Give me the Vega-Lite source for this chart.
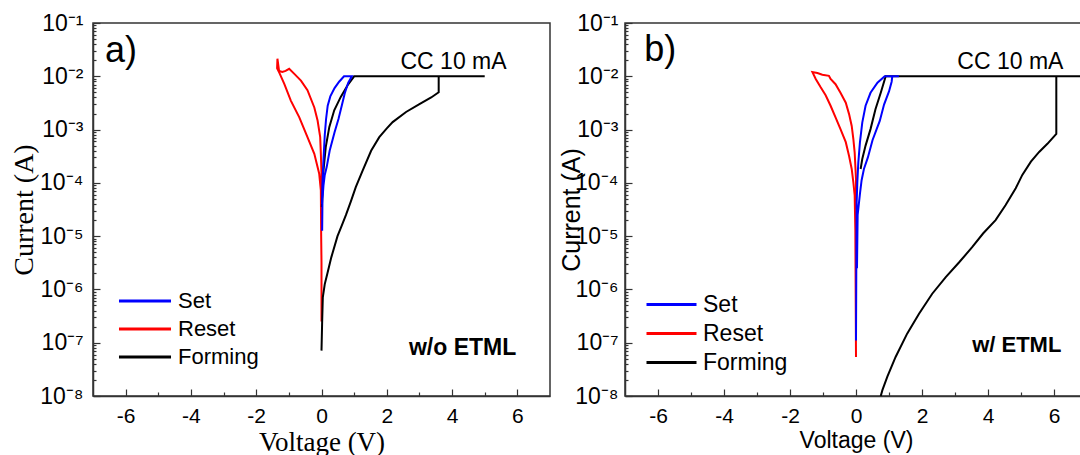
{
  "$schema": "https://vega.github.io/schema/vega-lite/v6.json",
  "autosize": {"type": "pad"},
  "padding": {"left": 9, "top": 11, "right": 0, "bottom": 5},
  "background": "white",
  "config": {
    "view": {"stroke": "#333333", "strokeWidth": 1.5},
    "axis": {"grid": false, "domainColor": "#333333", "domainWidth": 1.5, "tickColor": "#333333", "tickWidth": 1.2, "labelColor": "#000000", "titleColor": "#000000", "labelOverlap": false, "labelFlush": false, "labelBound": false, "titleFontWeight": "normal"},
    "text": {"color": "#000000"}
  },
  "datasets": {
    "curves": [
      {"p":"a","s":"Forming","o":1,"v":0.0,"i":7.1e-8},
      {"p":"a","s":"Forming","o":2,"v":0.02,"i":2.5e-7},
      {"p":"a","s":"Forming","o":3,"v":0.04,"i":7.1e-7},
      {"p":"a","s":"Forming","o":4,"v":0.1,"i":1.26e-6},
      {"p":"a","s":"Forming","o":5,"v":0.18,"i":2.0e-6},
      {"p":"a","s":"Forming","o":6,"v":0.3,"i":4.0e-6},
      {"p":"a","s":"Forming","o":7,"v":0.49,"i":1.0e-5},
      {"p":"a","s":"Forming","o":8,"v":0.62,"i":1.58e-5},
      {"p":"a","s":"Forming","o":9,"v":0.75,"i":2.5e-5},
      {"p":"a","s":"Forming","o":10,"v":0.9,"i":4.5e-5},
      {"p":"a","s":"Forming","o":11,"v":1.05,"i":8.3e-5},
      {"p":"a","s":"Forming","o":12,"v":1.26,"i":1.7e-4},
      {"p":"a","s":"Forming","o":13,"v":1.52,"i":4.0e-4},
      {"p":"a","s":"Forming","o":14,"v":1.77,"i":7.2e-4},
      {"p":"a","s":"Forming","o":15,"v":2.0,"i":1.05e-3},
      {"p":"a","s":"Forming","o":16,"v":2.18,"i":1.38e-3},
      {"p":"a","s":"Forming","o":17,"v":2.59,"i":2.14e-3},
      {"p":"a","s":"Forming","o":18,"v":3.0,"i":3.0e-3},
      {"p":"a","s":"Forming","o":19,"v":3.36,"i":4.0e-3},
      {"p":"a","s":"Forming","o":20,"v":3.59,"i":5.0e-3},
      {"p":"a","s":"Forming","o":21,"v":3.59,"i":1.0e-2},
      {"p":"a","s":"Forming","o":22,"v":5.0,"i":1.0e-2},
      {"p":"a","s":"Forming","o":23,"v":1.0,"i":1.0e-2},
      {"p":"a","s":"Forming","o":24,"v":0.8,"i":6.8e-3},
      {"p":"a","s":"Forming","o":25,"v":0.59,"i":4.1e-3},
      {"p":"a","s":"Forming","o":26,"v":0.39,"i":2.3e-3},
      {"p":"a","s":"Forming","o":27,"v":0.24,"i":1.12e-3},
      {"p":"a","s":"Forming","o":28,"v":0.13,"i":4.7e-4},
      {"p":"a","s":"Forming","o":29,"v":0.06,"i":1.7e-4},
      {"p":"a","s":"Forming","o":30,"v":0.03,"i":6.2e-5},
      {"p":"a","s":"Forming","o":31,"v":0.01,"i":3.5e-5},

      {"p":"a","s":"Set","o":1,"v":0.02,"i":1.26e-5},
      {"p":"a","s":"Set","o":2,"v":0.03,"i":5.0e-5},
      {"p":"a","s":"Set","o":3,"v":0.06,"i":8.9e-5},
      {"p":"a","s":"Set","o":4,"v":0.1,"i":1.41e-4},
      {"p":"a","s":"Set","o":5,"v":0.16,"i":2.0e-4},
      {"p":"a","s":"Set","o":6,"v":0.25,"i":4.0e-4},
      {"p":"a","s":"Set","o":7,"v":0.4,"i":8.9e-4},
      {"p":"a","s":"Set","o":8,"v":0.52,"i":1.58e-3},
      {"p":"a","s":"Set","o":9,"v":0.62,"i":2.8e-3},
      {"p":"a","s":"Set","o":10,"v":0.72,"i":5.0e-3},
      {"p":"a","s":"Set","o":11,"v":0.82,"i":7.6e-3},
      {"p":"a","s":"Set","o":12,"v":0.93,"i":1.0e-2},
      {"p":"a","s":"Set","o":13,"v":0.69,"i":1.0e-2},
      {"p":"a","s":"Set","o":14,"v":0.54,"i":7.9e-3},
      {"p":"a","s":"Set","o":15,"v":0.4,"i":6.0e-3},
      {"p":"a","s":"Set","o":16,"v":0.27,"i":4.2e-3},
      {"p":"a","s":"Set","o":17,"v":0.19,"i":2.8e-3},
      {"p":"a","s":"Set","o":18,"v":0.14,"i":1.58e-3},
      {"p":"a","s":"Set","o":19,"v":0.1,"i":7.9e-4},
      {"p":"a","s":"Set","o":20,"v":0.07,"i":3.5e-4},
      {"p":"a","s":"Set","o":21,"v":0.05,"i":2.0e-4},
      {"p":"a","s":"Set","o":22,"v":0.03,"i":1.0e-4},
      {"p":"a","s":"Set","o":23,"v":0.02,"i":4.0e-5},

      {"p":"a","s":"Reset","o":1,"v":0.0,"i":2.5e-5},
      {"p":"a","s":"Reset","o":2,"v":0.0,"i":1.48e-4},
      {"p":"a","s":"Reset","o":3,"v":-0.02,"i":3.5e-4},
      {"p":"a","s":"Reset","o":4,"v":-0.04,"i":7.2e-4},
      {"p":"a","s":"Reset","o":5,"v":-0.12,"i":1.48e-3},
      {"p":"a","s":"Reset","o":6,"v":-0.22,"i":2.6e-3},
      {"p":"a","s":"Reset","o":7,"v":-0.43,"i":5.5e-3},
      {"p":"a","s":"Reset","o":8,"v":-0.63,"i":8.3e-3},
      {"p":"a","s":"Reset","o":9,"v":-0.84,"i":1.12e-2},
      {"p":"a","s":"Reset","o":10,"v":-0.99,"i":1.38e-2},
      {"p":"a","s":"Reset","o":11,"v":-1.1,"i":1.26e-2},
      {"p":"a","s":"Reset","o":12,"v":-1.2,"i":1.2e-2},
      {"p":"a","s":"Reset","o":13,"v":-1.3,"i":1.26e-2},
      {"p":"a","s":"Reset","o":14,"v":-1.35,"i":2.14e-2},
      {"p":"a","s":"Reset","o":15,"v":-1.36,"i":1.41e-2},
      {"p":"a","s":"Reset","o":16,"v":-1.28,"i":1.12e-2},
      {"p":"a","s":"Reset","o":17,"v":-1.14,"i":7.2e-3},
      {"p":"a","s":"Reset","o":18,"v":-0.94,"i":3.5e-3},
      {"p":"a","s":"Reset","o":19,"v":-0.68,"i":1.7e-3},
      {"p":"a","s":"Reset","o":20,"v":-0.43,"i":7.2e-4},
      {"p":"a","s":"Reset","o":21,"v":-0.22,"i":3.5e-4},
      {"p":"a","s":"Reset","o":22,"v":-0.07,"i":1.48e-4},
      {"p":"a","s":"Reset","o":23,"v":-0.02,"i":7.2e-5},
      {"p":"a","s":"Reset","o":24,"v":-0.01,"i":1.0e-5},
      {"p":"a","s":"Reset","o":25,"v":0.0,"i":3.2e-6},
      {"p":"a","s":"Reset","o":26,"v":0.0,"i":2.5e-7},

      {"p":"b","s":"Forming","o":1,"v":0.75,"i":1.0e-8},
      {"p":"b","s":"Forming","o":2,"v":0.8,"i":1.29e-8},
      {"p":"b","s":"Forming","o":3,"v":0.95,"i":2.3e-8},
      {"p":"b","s":"Forming","o":4,"v":1.2,"i":5.4e-8},
      {"p":"b","s":"Forming","o":5,"v":1.55,"i":1.48e-7},
      {"p":"b","s":"Forming","o":6,"v":1.91,"i":3.5e-7},
      {"p":"b","s":"Forming","o":7,"v":2.31,"i":8.3e-7},
      {"p":"b","s":"Forming","o":8,"v":2.72,"i":1.7e-6},
      {"p":"b","s":"Forming","o":9,"v":3.12,"i":3.2e-6},
      {"p":"b","s":"Forming","o":10,"v":3.52,"i":6.2e-6},
      {"p":"b","s":"Forming","o":11,"v":3.85,"i":1.12e-5},
      {"p":"b","s":"Forming","o":12,"v":4.23,"i":2.0e-5},
      {"p":"b","s":"Forming","o":13,"v":4.53,"i":3.8e-5},
      {"p":"b","s":"Forming","o":14,"v":4.84,"i":7.9e-5},
      {"p":"b","s":"Forming","o":15,"v":5.04,"i":1.41e-4},
      {"p":"b","s":"Forming","o":16,"v":5.3,"i":2.5e-4},
      {"p":"b","s":"Forming","o":17,"v":5.55,"i":3.8e-4},
      {"p":"b","s":"Forming","o":18,"v":5.8,"i":5.4e-4},
      {"p":"b","s":"Forming","o":19,"v":6.07,"i":8.3e-4},
      {"p":"b","s":"Forming","o":20,"v":6.07,"i":1.0e-2},
      {"p":"b","s":"Forming","o":21,"v":7.0,"i":1.0e-2},
      {"p":"b","s":"Forming","o":22,"v":0.9,"i":1.0e-2},
      {"p":"b","s":"Forming","o":23,"v":0.75,"i":4.9e-3},
      {"p":"b","s":"Forming","o":24,"v":0.59,"i":2.4e-3},
      {"p":"b","s":"Forming","o":25,"v":0.44,"i":1.02e-3},
      {"p":"b","s":"Forming","o":26,"v":0.29,"i":5.0e-4},
      {"p":"b","s":"Forming","o":27,"v":0.19,"i":2.8e-4},
      {"p":"b","s":"Forming","o":28,"v":0.14,"i":1.82e-4},

      {"p":"b","s":"Set","o":1,"v":0.03,"i":2.5e-6},
      {"p":"b","s":"Set","o":2,"v":0.05,"i":2.5e-5},
      {"p":"b","s":"Set","o":3,"v":0.12,"i":6.3e-5},
      {"p":"b","s":"Set","o":4,"v":0.17,"i":1.12e-4},
      {"p":"b","s":"Set","o":5,"v":0.24,"i":1.82e-4},
      {"p":"b","s":"Set","o":6,"v":0.36,"i":3.0e-4},
      {"p":"b","s":"Set","o":7,"v":0.5,"i":6.3e-4},
      {"p":"b","s":"Set","o":8,"v":0.62,"i":1.0e-3},
      {"p":"b","s":"Set","o":9,"v":0.72,"i":1.45e-3},
      {"p":"b","s":"Set","o":10,"v":0.85,"i":2.95e-3},
      {"p":"b","s":"Set","o":11,"v":1.0,"i":5.2e-3},
      {"p":"b","s":"Set","o":12,"v":1.08,"i":7.9e-3},
      {"p":"b","s":"Set","o":13,"v":1.1,"i":1.0e-2},
      {"p":"b","s":"Set","o":14,"v":1.3,"i":1.0e-2},
      {"p":"b","s":"Set","o":15,"v":0.87,"i":1.0e-2},
      {"p":"b","s":"Set","o":16,"v":0.65,"i":7.6e-3},
      {"p":"b","s":"Set","o":17,"v":0.44,"i":4.9e-3},
      {"p":"b","s":"Set","o":18,"v":0.29,"i":2.8e-3},
      {"p":"b","s":"Set","o":19,"v":0.19,"i":1.35e-3},
      {"p":"b","s":"Set","o":20,"v":0.12,"i":5.8e-4},
      {"p":"b","s":"Set","o":21,"v":0.07,"i":2.4e-4},
      {"p":"b","s":"Set","o":22,"v":0.04,"i":1.02e-4},
      {"p":"b","s":"Set","o":23,"v":0.02,"i":4.3e-5},
      {"p":"b","s":"Set","o":24,"v":0.01,"i":3.2e-6},
      {"p":"b","s":"Set","o":25,"v":0.0,"i":1.1e-7},

      {"p":"b","s":"Reset","o":1,"v":0.0,"i":3.2e-5},
      {"p":"b","s":"Reset","o":2,"v":0.0,"i":1.17e-4},
      {"p":"b","s":"Reset","o":3,"v":-0.02,"i":2.1e-4},
      {"p":"b","s":"Reset","o":4,"v":-0.04,"i":3.7e-4},
      {"p":"b","s":"Reset","o":5,"v":-0.08,"i":6.6e-4},
      {"p":"b","s":"Reset","o":6,"v":-0.13,"i":1.17e-3},
      {"p":"b","s":"Reset","o":7,"v":-0.21,"i":1.95e-3},
      {"p":"b","s":"Reset","o":8,"v":-0.31,"i":3.2e-3},
      {"p":"b","s":"Reset","o":9,"v":-0.47,"i":4.9e-3},
      {"p":"b","s":"Reset","o":10,"v":-0.62,"i":7.1e-3},
      {"p":"b","s":"Reset","o":11,"v":-0.77,"i":8.9e-3},
      {"p":"b","s":"Reset","o":12,"v":-0.82,"i":1.02e-2},
      {"p":"b","s":"Reset","o":13,"v":-1.02,"i":1.07e-2},
      {"p":"b","s":"Reset","o":14,"v":-1.17,"i":1.15e-2},
      {"p":"b","s":"Reset","o":15,"v":-1.32,"i":1.2e-2},
      {"p":"b","s":"Reset","o":16,"v":-1.22,"i":8.9e-3},
      {"p":"b","s":"Reset","o":17,"v":-1.07,"i":6.2e-3},
      {"p":"b","s":"Reset","o":18,"v":-0.92,"i":4.4e-3},
      {"p":"b","s":"Reset","o":19,"v":-0.77,"i":2.8e-3},
      {"p":"b","s":"Reset","o":20,"v":-0.62,"i":1.7e-3},
      {"p":"b","s":"Reset","o":21,"v":-0.47,"i":1.02e-3},
      {"p":"b","s":"Reset","o":22,"v":-0.31,"i":5.8e-4},
      {"p":"b","s":"Reset","o":23,"v":-0.21,"i":3.2e-4},
      {"p":"b","s":"Reset","o":24,"v":-0.13,"i":1.82e-4},
      {"p":"b","s":"Reset","o":25,"v":-0.08,"i":1.02e-4},
      {"p":"b","s":"Reset","o":26,"v":-0.04,"i":5.8e-5},
      {"p":"b","s":"Reset","o":27,"v":-0.02,"i":1.26e-5},
      {"p":"b","s":"Reset","o":28,"v":0.0,"i":5.4e-8}
    ],
    "notes": [
      {"p":"a","k":"tag","t":"a)","v":-6.63,"i":0.0182},
      {"p":"a","k":"cc","t":"CC 10 mA","v":2.42,"i":0.0139},
      {"p":"a","k":"dev","t":"w/o ETML","v":2.68,"i":5.9e-8},
      {"p":"b","k":"tag","t":"b)","v":-6.42,"i":0.0195},
      {"p":"b","k":"cc","t":"CC 10 mA","v":3.07,"i":0.0136},
      {"p":"b","k":"dev","t":"w/ ETML","v":3.52,"i":6.8e-8}
    ]
  },
  "spacing": 75,
  "bounds": "flush",
  "resolve": {"scale": {"color": "independent"}, "legend": {"color": "independent"}},
  "hconcat": [
    {
      "width": 457,
      "height": 373,
      "encoding": {
        "x": {"field": "v", "type": "quantitative",
          "scale": {"domain": [-7, 7], "nice": false, "zero": false},
          "axis": {"values": [-6,-5,-4,-3,-2,-1,0,1,2,3,4,5,6],
            "labelExpr": "datum.value % 2 == 0 ? '' + datum.value : ''",
            "tickSize": {"condition": {"test": "datum.value % 2 == 0", "value": -7}, "value": -4},
            "labelFont": "Liberation Sans", "labelFontSize": 21, "labelPadding": 16,
            "title": "Voltage (V)", "titleFont": "Liberation Serif", "titleFontSize": 27, "titlePadding": 0}},
        "y": {"field": "i", "type": "quantitative",
          "scale": {"type": "log", "domain": [1e-8, 0.1], "nice": false},
          "axis": {"values": [1e-8,2e-8,3e-8,4e-8,5e-8,6e-8,7e-8,8e-8,9e-8,1e-7,2e-7,3e-7,4e-7,5e-7,6e-7,7e-7,8e-7,9e-7,1e-6,2e-6,3e-6,4e-6,5e-6,6e-6,7e-6,8e-6,9e-6,1e-5,2e-5,3e-5,4e-5,5e-5,6e-5,7e-5,8e-5,9e-5,1e-4,2e-4,3e-4,4e-4,5e-4,6e-4,7e-4,8e-4,9e-4,1e-3,2e-3,3e-3,4e-3,5e-3,6e-3,7e-3,8e-3,9e-3,1e-2,2e-2,3e-2,4e-2,5e-2,6e-2,7e-2,8e-2,9e-2,1e-1],
            "labelExpr": "abs(log(datum.value)/LN10 - round(log(datum.value)/LN10)) < 0.001 ? '10⁻' + ['⁰','¹','²','³','⁴','⁵','⁶','⁷','⁸','⁹'][-round(log(datum.value)/LN10)] : ''",
            "tickSize": {"condition": {"test": "abs(log(datum.value)/LN10 - round(log(datum.value)/LN10)) < 0.001", "value": -7}, "value": -3},
            "labelFont": "Liberation Sans", "labelFontSize": 23, "labelPadding": 17,
            "title": "Current (A)", "titleFont": "Liberation Serif", "titleFontSize": 28, "titleX": -69, "titleBaseline": "middle"}}
      },
      "layer": [
        {"data": {"name": "curves"}, "transform": [{"filter": "datum.p == 'a' && datum.s == 'Reset'"}],
         "mark": {"type": "line", "strokeWidth": 2, "clip": true},
         "encoding": {"order": {"field": "o", "type": "quantitative"},
           "color": {"field": "s", "type": "nominal", "scale": {"domain": ["Set", "Reset", "Forming"], "range": ["#0000ff", "#ff0000", "#000000"]},
             "legend": {"orient": "none", "legendX": 40, "legendY": 266, "title": null, "padding": 0, "symbolType": "M-2.5,0H2.5", "symbolSize": 433, "symbolStrokeWidth": 3, "labelFont": "Liberation Sans", "labelFontSize": 22, "labelColor": "#000000", "labelOffset": 21, "rowPadding": 5}}}},
        {"data": {"name": "curves"}, "transform": [{"filter": "datum.p == 'a' && datum.s == 'Forming'"}],
         "mark": {"type": "line", "strokeWidth": 2, "clip": true},
         "encoding": {"order": {"field": "o", "type": "quantitative"}, "color": {"field": "s", "type": "nominal"}}},
        {"data": {"name": "curves"}, "transform": [{"filter": "datum.p == 'a' && datum.s == 'Set'"}],
         "mark": {"type": "line", "strokeWidth": 2, "clip": true},
         "encoding": {"order": {"field": "o", "type": "quantitative"}, "color": {"field": "s", "type": "nominal"}}},
        {"data": {"name": "notes"}, "transform": [{"filter": "datum.p == 'a' && datum.k == 'tag'"}],
         "mark": {"type": "text", "align": "left", "baseline": "alphabetic", "font": "Liberation Sans", "fontSize": 36},
         "encoding": {"text": {"field": "t"}}},
        {"data": {"name": "notes"}, "transform": [{"filter": "datum.p == 'a' && datum.k == 'cc'"}],
         "mark": {"type": "text", "align": "left", "baseline": "alphabetic", "font": "Liberation Sans", "fontSize": 23},
         "encoding": {"text": {"field": "t"}}},
        {"data": {"name": "notes"}, "transform": [{"filter": "datum.p == 'a' && datum.k == 'dev'"}],
         "mark": {"type": "text", "align": "left", "baseline": "alphabetic", "font": "Liberation Sans", "fontSize": 23, "fontWeight": "bold"},
         "encoding": {"text": {"field": "t"}}}
      ]
    },
    {
      "width": 462,
      "height": 373,
      "encoding": {
        "x": {"field": "v", "type": "quantitative",
          "scale": {"domain": [-7, 7], "nice": false, "zero": false},
          "axis": {"values": [-6,-5,-4,-3,-2,-1,0,1,2,3,4,5,6],
            "labelExpr": "datum.value % 2 == 0 ? '' + datum.value : ''",
            "tickSize": {"condition": {"test": "datum.value % 2 == 0", "value": -7}, "value": -4},
            "labelFont": "Liberation Sans", "labelFontSize": 21, "labelPadding": 16,
            "title": "Voltage (V)", "titleFont": "Liberation Sans", "titleFontSize": 23, "titlePadding": 0}},
        "y": {"field": "i", "type": "quantitative",
          "scale": {"type": "log", "domain": [1e-8, 0.1], "nice": false},
          "axis": {"values": [1e-8,2e-8,3e-8,4e-8,5e-8,6e-8,7e-8,8e-8,9e-8,1e-7,2e-7,3e-7,4e-7,5e-7,6e-7,7e-7,8e-7,9e-7,1e-6,2e-6,3e-6,4e-6,5e-6,6e-6,7e-6,8e-6,9e-6,1e-5,2e-5,3e-5,4e-5,5e-5,6e-5,7e-5,8e-5,9e-5,1e-4,2e-4,3e-4,4e-4,5e-4,6e-4,7e-4,8e-4,9e-4,1e-3,2e-3,3e-3,4e-3,5e-3,6e-3,7e-3,8e-3,9e-3,1e-2,2e-2,3e-2,4e-2,5e-2,6e-2,7e-2,8e-2,9e-2,1e-1],
            "labelExpr": "abs(log(datum.value)/LN10 - round(log(datum.value)/LN10)) < 0.001 ? '10⁻' + ['⁰','¹','²','³','⁴','⁵','⁶','⁷','⁸','⁹'][-round(log(datum.value)/LN10)] : ''",
            "tickSize": {"condition": {"test": "abs(log(datum.value)/LN10 - round(log(datum.value)/LN10)) < 0.001", "value": -7}, "value": -3},
            "labelFont": "Liberation Sans", "labelFontSize": 23, "labelPadding": 14,
            "title": "Current (A)", "titleFont": "Liberation Sans", "titleFontSize": 25, "titleX": -54, "titleBaseline": "middle"}}
      },
      "layer": [
        {"data": {"name": "curves"}, "transform": [{"filter": "datum.p == 'b' && datum.s == 'Reset'"}],
         "mark": {"type": "line", "strokeWidth": 2, "clip": true},
         "encoding": {"order": {"field": "o", "type": "quantitative"},
           "color": {"field": "s", "type": "nominal", "scale": {"domain": ["Set", "Reset", "Forming"], "range": ["#0000ff", "#ff0000", "#000000"]},
             "legend": {"orient": "none", "legendX": 35, "legendY": 270, "title": null, "padding": 0, "symbolType": "M-2.5,0H2.5", "symbolSize": 400, "symbolStrokeWidth": 3, "labelFont": "Liberation Sans", "labelFontSize": 23, "labelColor": "#000000", "labelOffset": 20, "rowPadding": 5}}}},
        {"data": {"name": "curves"}, "transform": [{"filter": "datum.p == 'b' && datum.s == 'Forming'"}],
         "mark": {"type": "line", "strokeWidth": 2, "clip": true},
         "encoding": {"order": {"field": "o", "type": "quantitative"}, "color": {"field": "s", "type": "nominal"}}},
        {"data": {"name": "curves"}, "transform": [{"filter": "datum.p == 'b' && datum.s == 'Set'"}],
         "mark": {"type": "line", "strokeWidth": 2, "clip": true},
         "encoding": {"order": {"field": "o", "type": "quantitative"}, "color": {"field": "s", "type": "nominal"}}},
        {"data": {"name": "notes"}, "transform": [{"filter": "datum.p == 'b' && datum.k == 'tag'"}],
         "mark": {"type": "text", "align": "left", "baseline": "alphabetic", "font": "Liberation Sans", "fontSize": 36},
         "encoding": {"text": {"field": "t"}}},
        {"data": {"name": "notes"}, "transform": [{"filter": "datum.p == 'b' && datum.k == 'cc'"}],
         "mark": {"type": "text", "align": "left", "baseline": "alphabetic", "font": "Liberation Sans", "fontSize": 23},
         "encoding": {"text": {"field": "t"}}},
        {"data": {"name": "notes"}, "transform": [{"filter": "datum.p == 'b' && datum.k == 'dev'"}],
         "mark": {"type": "text", "align": "left", "baseline": "alphabetic", "font": "Liberation Sans", "fontSize": 22, "fontWeight": "bold"},
         "encoding": {"text": {"field": "t"}}}
      ]
    }
  ]
}
